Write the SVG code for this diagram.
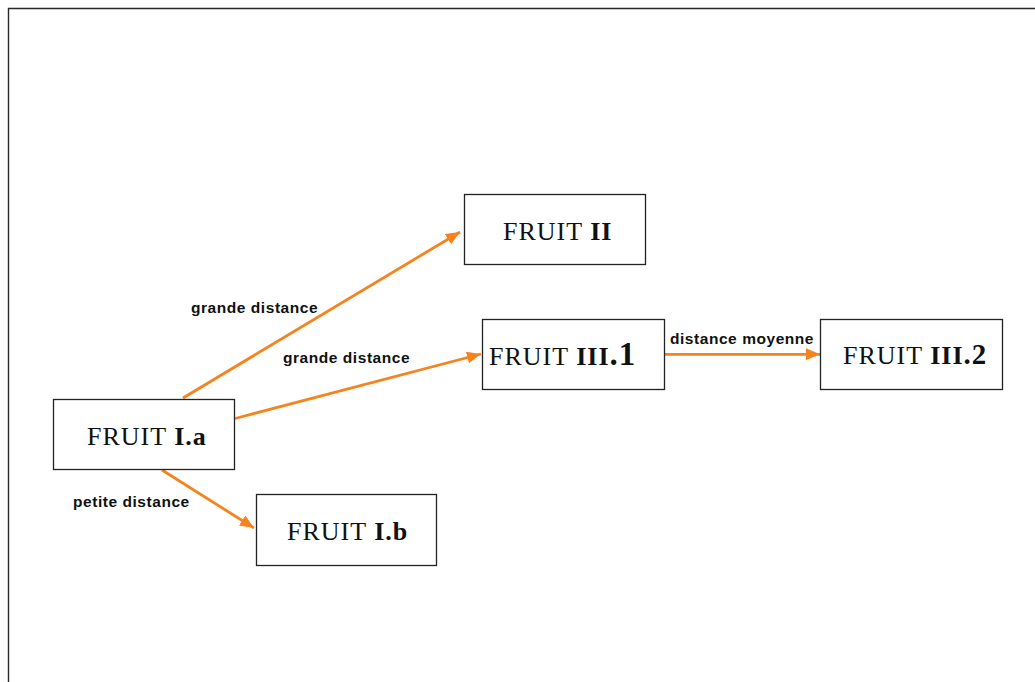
<svg xmlns="http://www.w3.org/2000/svg" width="1035" height="682" viewBox="0 0 1035 682">
  <style>
    .box { fill: #ffffff; stroke: #222222; stroke-width: 1.3; }
    .name { font-family: "Liberation Serif", "DejaVu Serif", serif; font-size: 26px; letter-spacing: 1px; fill: #111111; }
    .name .b { font-weight: bold; }
    .edge { stroke: #F5841F; stroke-width: 2.8; fill: none; marker-end: url(#arrow); }
    .lbl { font-family: "Liberation Sans", Arial, sans-serif; font-weight: bold; font-size: 15.5px; letter-spacing: 0.55px; fill: #111111; }
  </style>
  <defs>
    <marker id="arrow" markerUnits="userSpaceOnUse" markerWidth="16" markerHeight="14" refX="14" refY="6" orient="auto">
      <path d="M0,0 L14,6 L0,12 Z" fill="#F5841F"/>
    </marker>
  </defs>

  <rect width="1035" height="682" fill="#ffffff"/>
  <!-- page frame -->
  <path d="M8.5,682 L8.5,8.5 L1035,8.5" fill="none" stroke="#2a2a2a" stroke-width="1.4"/>

  <!-- connectors -->
  <g id="connectors">
    <line class="edge" x1="183" y1="398" x2="460" y2="232"/>
    <line class="edge" x1="235" y1="418.5" x2="481" y2="354"/>
    <line class="edge" x1="665" y1="354.3" x2="820" y2="354.3"/>
    <line class="edge" x1="162" y1="470" x2="254" y2="528"/>
    <text class="lbl" x="191" y="313">grande distance</text>
    <text class="lbl" x="283" y="363">grande distance</text>
    <text class="lbl" x="670" y="344">distance moyenne</text>
    <text class="lbl" x="73" y="507">petite distance</text>
  </g>

  <g id="fruit-1a">
    <rect class="box" x="53.5" y="399.5" width="181" height="70"/>
    <text class="name" x="87" y="444.5">FRUIT <tspan class="b">I.a</tspan></text>
  </g>

  <g id="fruit-2">
    <rect class="box" x="464.5" y="194.5" width="181" height="70"/>
    <text class="name" x="503" y="240">FRUIT <tspan class="b">II</tspan></text>
  </g>

  <g id="fruit-3-1">
    <rect class="box" x="482.5" y="319.5" width="182" height="70"/>
    <text class="name" x="489" y="365">FRUIT <tspan class="b">III</tspan><tspan class="b" font-size="33">.1</tspan></text>
  </g>

  <g id="fruit-3-2">
    <rect class="box" x="820.5" y="319.5" width="182" height="70"/>
    <text class="name" x="843" y="364">FRUIT <tspan class="b">III</tspan><tspan class="b" font-size="29">.2</tspan></text>
  </g>

  <g id="fruit-1b">
    <rect class="box" x="256.5" y="494.5" width="180" height="71"/>
    <text class="name" x="287" y="540">FRUIT <tspan class="b">I.b</tspan></text>
  </g>
</svg>
